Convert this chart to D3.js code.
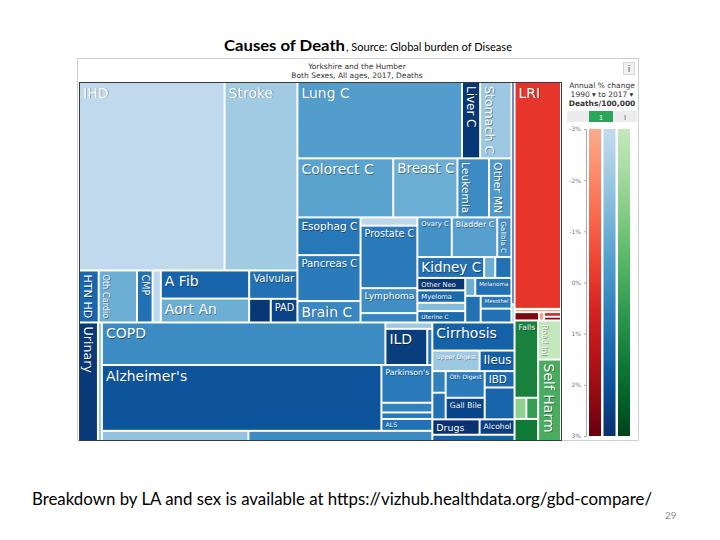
<!DOCTYPE html>
<html><head><meta charset="utf-8">
<script src="https://cdn.jsdelivr.net/npm/d3@7"></script>
<style>body{margin:0;background:#fff} svg text{font-family:"DejaVu Sans",Verdana,sans-serif}</style>
</head><body>
<svg id="c" width="720" height="540"></svg>
<script>
// ---- data (deaths, Yorkshire and the Humber, both sexes, all ages, 2017) ----
const causes = [
 "IHD","Stroke","HTN HD","Oth Cardio","CMP","","A Fib","Aort An","Valvular","","PAD",
 "Lung C","Liver C","Stomach C","Colorect C","Breast C","Leukemia","Other MN",
 "Esophag C","Pancreas C","Brain C","","Prostate C","Lymphoma","",
 "Ovary C","Bladder C","Gallbla C","Kidney C","","","Other Neo","Myeloma","","Uterine C",
 "","Melanoma","","Mesothel","","","",
 "Urinary","","COPD","","ILD","","Alzheimer's","Parkinson's","","","ALS","","",
 "Cirrhosis","Upper Digest","Ileus","","","Oth Digest","Gall Bile","IBD","","Drugs","Alcohol","",
 "LRI","","","","","",
 "Falls","","","","Road Inj","Self Harm"];
const deaths = [
 7796,3898,291,566,230,122,705,600,389,145,179,
 3570,394,679,1607,1077,530,376,
 677,824,384,134,1008,403,151,
 388,513,160,396,66,96,169,169,113,155,
 51,184,117,112,121,195,16,
 638,134,3427,85,430,52,5226,546,140,94,172,423,531,
 656,276,204,82,101,296,239,139,270,207,153,146,
 2995,43,58,12,22,18,
 518,71,71,148,254,529];
// annual % change in death rate, 1990 to 2017
const change = [
 -2.9,-2.1,1.3,-1.0,1.0,-2.8,1.4,-1.0,1.0,2.8,2.4,
 -0.4,2.8,-2.0,-0.6,-1.0,0.2,-0.3,
 0.8,0.7,0.3,-2.8,0.7,0.1,0.4,
 0.0,-0.5,0.0,1.0,-1.0,1.0,2.8,1.2,-1.5,1.2,
 -1.0,1.0,1.0,0.7,1.0,3.0,-2.0,
 2.7,-2.0,0.2,-2.0,2.6,0.8,1.9,0.7,0.5,0.8,1.0,-1.8,0.2,
 1.5,-2.0,1.5,0.5,1.0,0.7,2.4,1.2,1.4,2.9,2.5,1.5,
 0.0,-3.0,2.6,-2.7,0.6,2.3,
 1.3,-1.6,0.4,1.6,-2.9,-0.1];
const legendTicks = [-3,-2,-1,0,1,2,3];

// ---- arrangement of the cells (h = side by side, v = stacked); numbers index the arrays ----
const layout =
["h",
 ["v:ncd",
  ["h",
   ["v", ["h",0,1], ["h",2,3,4,5,["v",6,7],["v",8,["h",9,10]]]],
   ["v", ["h",11,12,13], ["h",14,15,16,17],
     ["h", ["v",18,19,20], ["v",21,22,23,24],
       ["v", ["h",25,26,27], ["h",28,29,30],
         ["h", ["v",31,32,33,34], ["v", ["h",35,36], ["h",37,["v",38,39]]]]]]],
   ["v",40,41]],
  ["h",
   ["h",42,43],
   ["v", ["h",44,["v",45,["h",46,47]]], ["h",48,["v",49,50,51,52]], ["h",53,54]],
   ["v",55,["h",56,57],["h",["v",58,59],["v",60,61],["v",62,63]],["h",64,65],66]]],
 ["v",
  ["v:cmnn",67,68,["h",69,70,["v",71,72]]],
  ["h:inj",["v",73,["h",74,75],76],["v",77,78]]]];
const horizontalLabels = new Set(["Falls"]);

const svg = d3.select("#c");
const families = {
  cmnn: {interp: d3.interpolateReds, lo: 0.3, hi: 1},
  ncd:  {interp: d3.interpolateBlues, lo: 0.25, hi: 1},
  inj:  {interp: d3.interpolateGreens, lo: 0.25, hi: 1}
};
function colorFor(fam, c) {
  const f = families[fam];
  const t = d3.scaleLinear().domain([-3,3]).range([f.lo,f.hi]).clamp(true)(c);
  return f.interp(t);
}

// ---- slide title ----
svg.append("text").attr("x",224).attr("y",51).attr("font-size",16).attr("font-weight","bold")
  .style("font-family","Lato,'Open Sans',sans-serif").attr("textLength",121).attr("lengthAdjust","spacingAndGlyphs")
  .text("Causes of Death");
svg.append("text").attr("x",346).attr("y",51).attr("font-size",11)
  .style("font-family","Lato,'Open Sans',sans-serif").attr("textLength",166).attr("lengthAdjust","spacingAndGlyphs")
  .text(", Source: Global burden of Disease");

// ---- frame ----
svg.append("rect").attr("x",77.5).attr("y",58.5).attr("width",561).attr("height",382)
  .attr("fill","#fff").attr("stroke","#cfcfcf");
svg.append("text").attr("x",357).attr("y",69).attr("text-anchor","middle").attr("font-size",7.5).attr("fill","#333")
  .text("Yorkshire and the Humber");
svg.append("text").attr("x",357).attr("y",78).attr("text-anchor","middle").attr("font-size",7.5).attr("fill","#333")
  .text("Both Sexes, All ages, 2017, Deaths");
svg.append("rect").attr("x",623.5).attr("y",62.5).attr("width",11).attr("height",12).attr("fill","#f2f2f2").attr("stroke","#d5d5d5");
svg.append("text").attr("x",629).attr("y",72).attr("text-anchor","middle").attr("font-size",9).attr("fill","#444").text("i");

// ---- treemap ----
function build(n) {
  if (typeof n === "number") return {i: n, value: deaths[n]};
  const [tag, ...kids] = n;
  const [dir, fam] = tag.split(":");
  return {dir, fam, children: kids.map(build)};
}
const root = d3.hierarchy(build(layout)).sum(d => d.value || 0);
const X0 = 80, Y0 = 83;
d3.treemap().size([480, 357]).paddingInner(2)
  .tile((node, x0, y0, x1, y1) => (node.data.dir === "h" ? d3.treemapDice : d3.treemapSlice)(node, x0, y0, x1, y1))(root);

const g = svg.append("g").attr("transform", `translate(${X0},${Y0})`);
const leaves = root.leaves();
leaves.forEach(l => {
  let a = l; while (a && !a.data.fam) a = a.parent;
  l.fam = a ? a.data.fam : "ncd";
});
g.selectAll("rect.cell").data(leaves).join("rect").attr("class","cell")
  .attr("x", d => d.x0).attr("y", d => d.y0)
  .attr("width", d => Math.max(0, d.x1 - d.x0)).attr("height", d => Math.max(0, d.y1 - d.y0))
  .attr("fill", d => colorFor(d.fam, change[d.data.i]));

// labels, fitted to the cells
const meas = svg.append("text").attr("font-size",10).attr("visibility","hidden");
leaves.forEach(d => {
  const name = causes[d.data.i];
  if (!name) return;
  meas.text(name);
  const len10 = meas.node().getComputedTextLength();
  const w = d.x1 - d.x0, h = d.y1 - d.y0;
  const fh = Math.min(14, (w - 5) * 10 / len10, (h - 3) / 1.1);
  const fv = Math.min(14, (h - 6) * 10 / len10, (w - 3) / 1.1);
  const vertical = !horizontalLabels.has(name) && fv > fh * 1.3;
  const fs = vertical ? fv : fh;
  if (fs < 4.5) return;
  let x, y, rot;
  if (vertical) { x = d.x0 + 1.5 + fs * 0.22; y = d.y0 + 3; rot = 90; }
  else { x = d.x0 + 3; y = d.y0 + 1.5 + fs * 0.93; rot = 0; }
  [["rgba(0,0,0,0.4)", 0.8], ["#fff", 0]].forEach(([col, off]) => {
    g.append("text").attr("font-size", fs).attr("fill", col)
      .attr("transform", `translate(${x + off},${y + off}) rotate(${rot})`)
      .text(name);
  });
});
meas.remove();
svg.append("rect").attr("x",79.5).attr("y",82.5).attr("width",482).attr("height",358)
  .attr("fill","none").attr("stroke","#3a3a3a");

// ---- legend ----
svg.append("text").attr("x",602).attr("y",88).attr("text-anchor","middle").attr("font-size",7.5).attr("fill","#333").text("Annual % change");
svg.append("text").attr("x",602).attr("y",97).attr("text-anchor","middle").attr("font-size",7.5).attr("fill","#333").text("1990 \u25BE to 2017 \u25BE");
svg.append("text").attr("x",602).attr("y",106).attr("text-anchor","middle").attr("font-size",7.5).attr("font-weight","bold").attr("fill","#333").text("Deaths/100,000");
svg.append("rect").attr("x",567).attr("y",111).attr("width",22).attr("height",11).attr("fill","#ececec");
svg.append("rect").attr("x",589).attr("y",111).attr("width",24).attr("height",11).attr("fill","#2aa65a");
svg.append("rect").attr("x",613).attr("y",111).attr("width",24).attr("height",11).attr("fill","#ececec");
svg.append("text").attr("x",601).attr("y",119.5).attr("text-anchor","middle").attr("font-size",7).attr("fill","#fff").text("1");
svg.append("text").attr("x",625).attr("y",119.5).attr("text-anchor","middle").attr("font-size",7).attr("fill","#555").text("I");

const ly = d3.scaleLinear().domain([-3,3]).range([129,436]);
const defs = svg.append("defs");
const barX = {cmnn: 589, ncd: 603.5, inj: 618};
Object.entries(families).forEach(([k, f]) => {
  const gr = defs.append("linearGradient").attr("id","grad-"+k).attr("x1",0).attr("y1",0).attr("x2",0).attr("y2",1);
  d3.range(0, 1.0001, 0.1).forEach(s => gr.append("stop").attr("offset", s).attr("stop-color", f.interp(f.lo + (f.hi - f.lo) * s)));
  svg.append("rect").attr("x", barX[k]).attr("y", ly(-3)).attr("width", 12).attr("height", ly(3) - ly(-3))
    .attr("fill", `url(#grad-${k})`);
});
const ax = svg.append("g").attr("transform","translate(586,0)")
  .call(d3.axisLeft(ly).tickValues(legendTicks).tickSize(2).tickFormat(d => (d < 0 ? "-" : "") + Math.abs(d) + "%"));
ax.select(".domain").attr("stroke","#aaa");
ax.selectAll(".tick line").attr("stroke","#aaa");
ax.selectAll(".tick text").attr("font-size",6).attr("fill","#777").style("font-family","'DejaVu Sans',sans-serif");

// ---- footer ----
svg.append("text").attr("x",32).attr("y",505).attr("font-size",17)
  .style("font-family","Lato,'Open Sans',sans-serif").attr("textLength",620).attr("lengthAdjust","spacingAndGlyphs")
  .text("Breakdown by LA and sex is available at https://vizhub.healthdata.org/gbd-compare/");
svg.append("text").attr("x",665).attr("y",519).attr("font-size",10).attr("fill","#8c8c8c")
  .style("font-family","Lato,'Open Sans',sans-serif").text("29");
</script>
</body></html>
